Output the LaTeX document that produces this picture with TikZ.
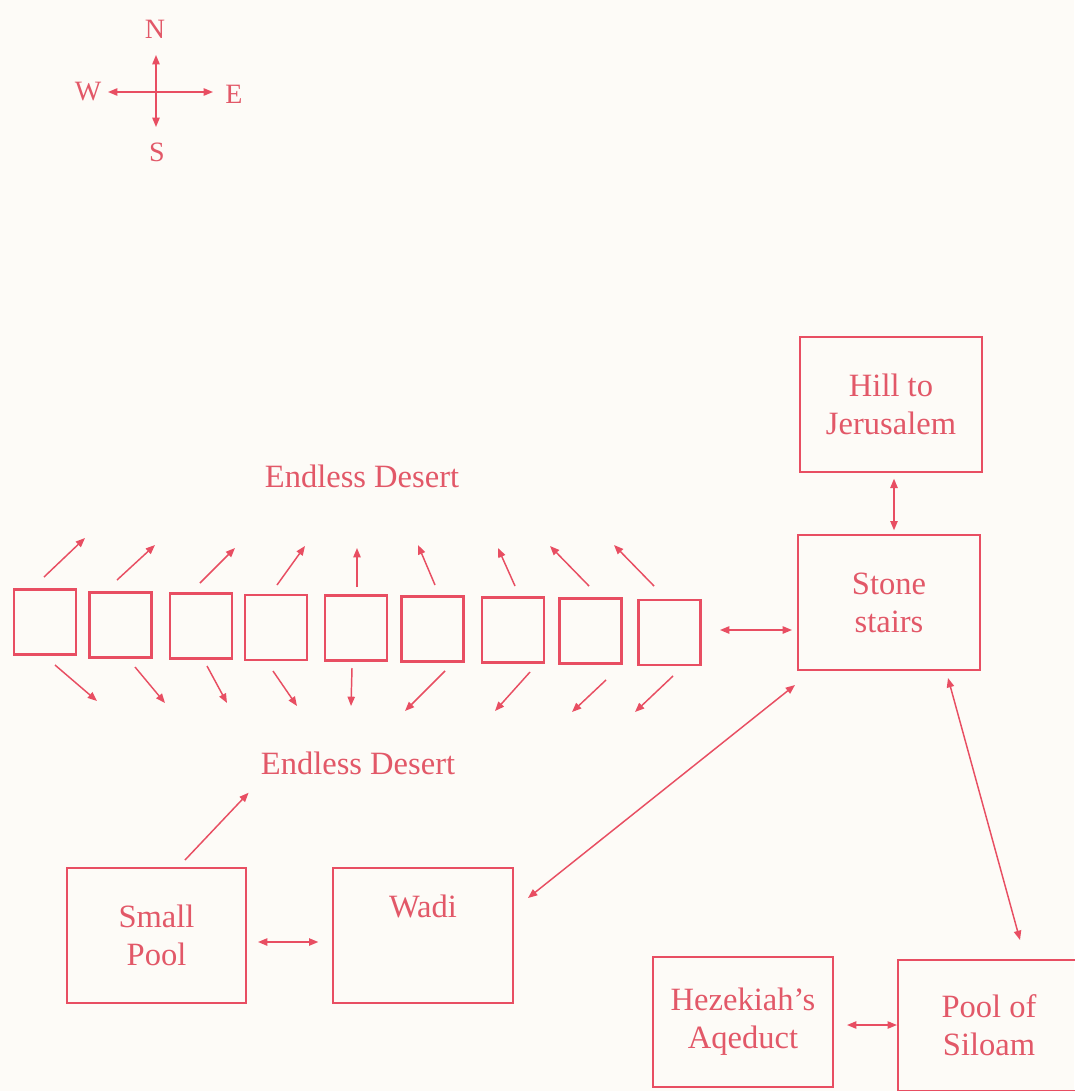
\documentclass[tikz,border=0pt]{standalone}
\usepackage{fontspec}
\setmainfont{Liberation Serif}
\usetikzlibrary{arrows.meta,calc}
\definecolor{ink}{RGB}{232,78,98}
\definecolor{txtc}{RGB}{226,88,104}
\definecolor{paper}{RGB}{253,251,247}
\begin{document}
\begin{tikzpicture}[x=0.75pt,y=-0.75pt,
  bigbox/.style={draw=ink,line width=2.2pt,minimum width=136.5pt,minimum height=101.25pt,inner sep=0pt,outer sep=0pt,
     align=center,text=txtc,font=\fontsize{24.4}{28.5}\selectfont},
  smallbox/.style={draw=ink,line width=2.2pt,minimum width=46.5pt,minimum height=48.75pt,inner sep=0pt,outer sep=0pt},
  lbl/.style={text=txtc,font=\fontsize{24.4}{28.5}\selectfont,inner sep=0pt},
  clbl/.style={text=txtc,font=\fontsize{21}{24}\selectfont,inner sep=0pt},
  sar/.style={draw=ink,line width=1.1pt,-{Triangle[length=7pt,width=5.5pt]}},
  dar/.style={draw=ink,line width=1.1pt,{Triangle[length=7pt,width=5.5pt]}-{Triangle[length=7pt,width=5.5pt]}}]
\fill[paper] (0,0) rectangle (1074,1091);
\useasboundingbox (0,0) rectangle (1074,1091);

% compass
\coordinate (cc) at (156,92);
\coordinate (cn) at (156,55);
\coordinate (cs) at (156,127);
\coordinate (cw) at (108,92);
\coordinate (ce) at (213,92);
\node[clbl] (nN) at (155,29) {N};
\node[clbl] (nS) at (157,152) {S};
\node[clbl] (nW) at (88,92) {W};
\node[clbl] (nE) at (234,94) {E};
\draw[sar] (cc) -- (cn);
\draw[sar] (cc) -- (cs);
\draw[sar] (cc) -- (cw);
\draw[sar] (cc) -- (ce);

% big boxes
\node[bigbox] (hill) at (891,404.5) {Hill to\\Jerusalem};
\node[bigbox] (stairs) at (889,602.5) {Stone\\stairs};
\node[bigbox,minimum width=134.25pt] (pool) at (156.5,935.5) {Small\\Pool};
\node[bigbox,minimum width=135pt] (wadi) at (423,935.5) {};
\node[lbl] (wadilbl) at (423,906) {Wadi};
\node[bigbox,minimum width=135pt,minimum height=97.5pt] (hez) at (743,1022) {Hezekiah's\\Aqeduct};
\node[bigbox,minimum height=98.25pt] (siloam) at (989,1025.5) {Pool of\\Siloam};

% labels
\node[lbl] (desU) at (362,476) {Endless Desert};
\node[lbl] (desD) at (358,763) {Endless Desert};

% small boxes
\node[smallbox] (b1) at (45,622) {};
\node[smallbox] (b2) at (120.5,625) {};
\node[smallbox] (b3) at (201,626) {};
\node[smallbox] (b4) at (276,627.5) {};
\node[smallbox] (b5) at (356,628) {};
\node[smallbox] (b6) at (432.5,629) {};
\node[smallbox] (b7) at (513,630) {};
\node[smallbox] (b8) at (590.5,631) {};
\node[smallbox] (b9) at (669.5,632.5) {};

% arrows up
\foreach \b/\sx/\sy/\ex/\ey in {b1/44/577/85/538, b2/117/580/155/545, b3/200/583/235/548, b4/277/585/305/546,
  b5/357/587/357/548, b6/435/585/418/545, b7/515/586/498/548, b8/589/586/550/546, b9/654/586/614/545}{
  \draw[sar] ($(\b)+(\sx,\sy)-(\b)$) -- ($(\b)+(\ex,\ey)-(\b)$);
}
% arrows down
\foreach \b/\sx/\sy/\ex/\ey in {b1/55/665/97/701, b2/135/667/165/703, b3/207/666/227/703, b4/273/671/297/706,
  b5/352/668/351/706, b6/445/671/405/711, b7/530/672/495/711, b8/606/680/572/712, b9/673/676/635/712}{
  \draw[sar] ($(\b)+(\sx,\sy)-(\b)$) -- ($(\b)+(\ex,\ey)-(\b)$);
}

% connectors
\draw[dar,shorten <=14.6pt,shorten >=4.5pt] ($(b9.east)+(0,-2.5)$) -- ($(b9.east -| stairs.west)+(0,-2.5)$);
\draw[dar,shorten <=5pt,shorten >=3.5pt] ($(hill.south)+(3,0)$) -- ($(stairs.north)+(5,0)$);
\draw[dar] ($(wadi.east)+(15,-37.5)$) -- ($(stairs.south west)+(-3,15)$);
\draw[dar] ($(stairs.south)+(59,8)$) -- ($(siloam.north)+(31,-20)$);
\draw[sar] ($(pool.north)+(28.5,-8)$) -- ($(desD.south west)+(-12,18)$);
\draw[dar,shorten <=9pt,shorten >=11pt] ($(pool.east)+(0,6.5)$) -- ($(wadi.west)+(0,6.5)$);
\draw[dar,shorten <=10.5pt,shorten >=0.8pt] ($(hez.east)+(0,3)$) -- ($(siloam.west)+(0,-0.5)$);
\end{tikzpicture}
\end{document}
